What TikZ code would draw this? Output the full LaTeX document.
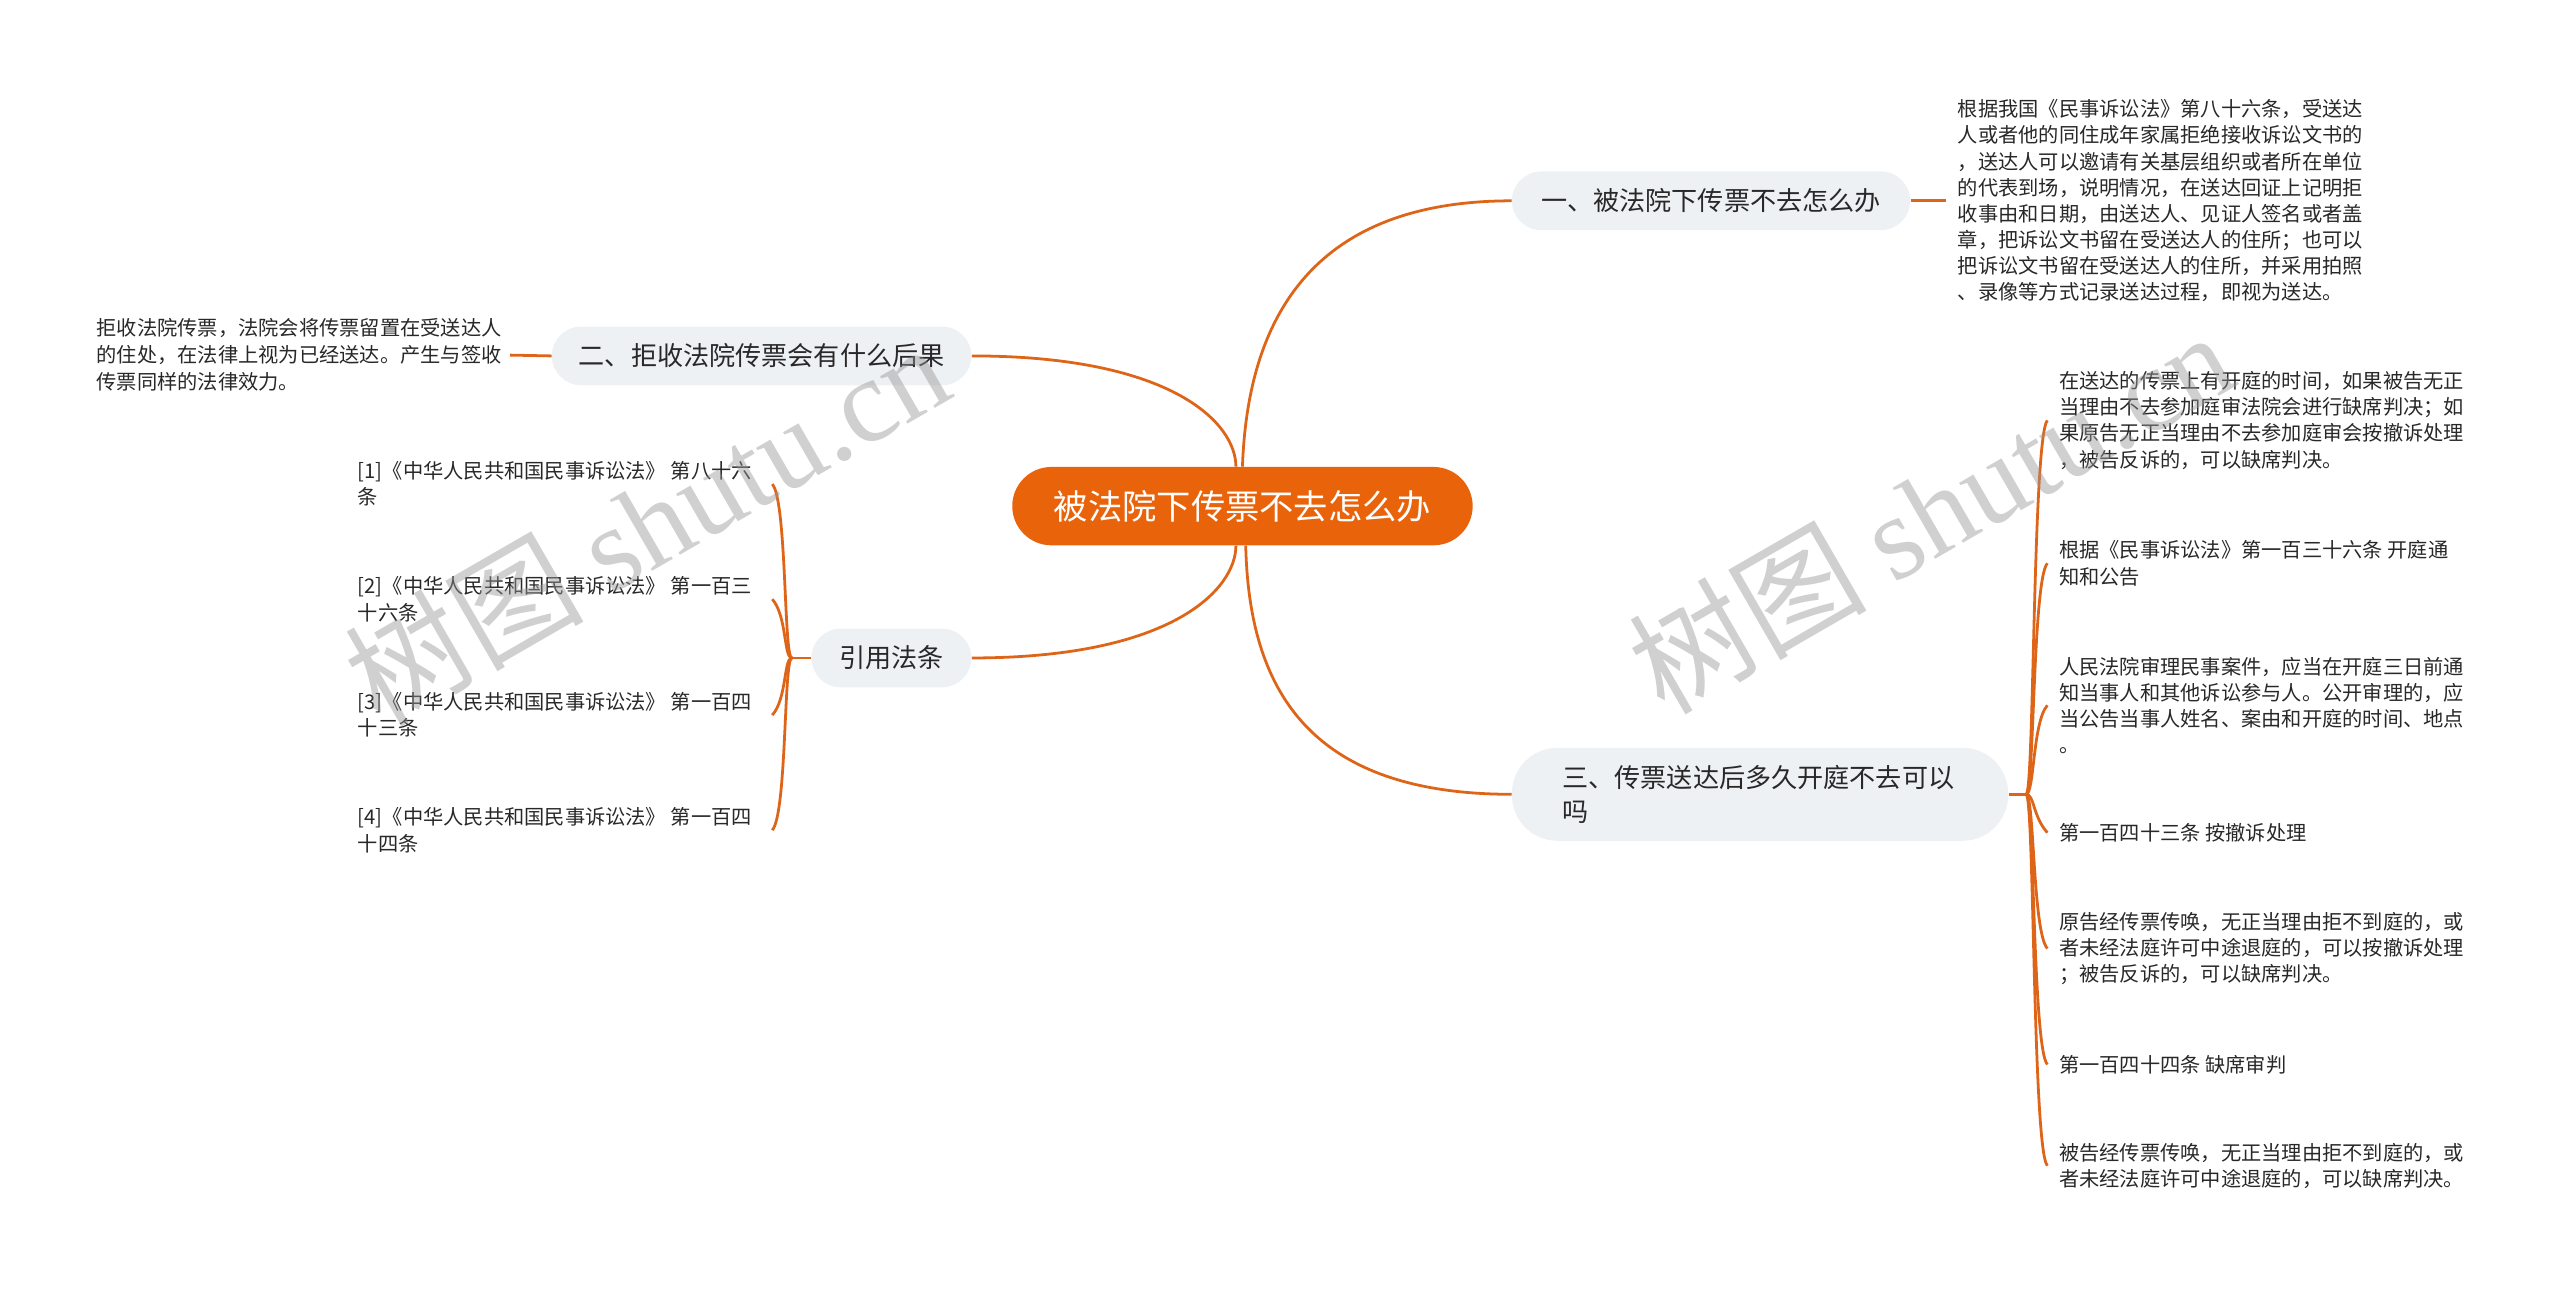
\documentclass[tikz,border=0pt]{standalone}
\usepackage{fontspec}
\setmainfont{Noto Sans CJK SC}
\newfontfamily\wmlatin{Liberation Serif}
\definecolor{rootc}{RGB}{233,99,10}
\definecolor{linec}{RGB}{222,100,24}
\definecolor{topicc}{RGB}{238,241,244}
\definecolor{textc}{RGB}{40,40,40}
\definecolor{wmc}{RGB}{150,150,150}
\begin{document}
\begin{tikzpicture}[x=1pt,y=-1pt,
  rootbox/.style={fill=rootc, text=white, rounded corners=24pt, minimum width=282pt, minimum height=48pt, inner sep=0pt, font=\fontsize{21}{25}\selectfont},
  topic/.style={fill=topicc, text=textc, rounded corners=18pt, minimum height=36pt, inner sep=0pt, font=\fontsize{16}{21}\selectfont},
  leaf/.style={text=textc, inner sep=0pt, align=left, anchor=west, font=\fontsize{12.4}{16}\selectfont},
  conn/.style={draw=linec, line width=1.7pt},
  wm/.style={text=wmc, text opacity=0.45, inner sep=0pt, font=\fontsize{73}{73}\selectfont}]
\useasboundingbox (0,0) rectangle (1568,790);

% central topic
\node[rootbox] (root) at (761,310) {被法院下传票不去怎么办};

% main topics
\node[topic, minimum width=244pt] (t1) at (1048,123) {一、被法院下传票不去怎么办};
\node[topic, minimum width=257pt] (t2) at (466.5,218) {二、拒收法院传票会有什么后果};
\node[topic, minimum width=98pt] (t4) at (546,403) {引用法条};
\node[topic, minimum width=304pt, minimum height=57pt, rounded corners=28pt, align=left, text width=242pt, font=\fontsize{16}{21}\selectfont] (t3) at (1078,486.5) {三、传票送达后多久开庭不去可以\\吗};

% leaves of t1 and t2
\node[leaf] (l1) at (1199,123) {根据我国《民事诉讼法》第八十六条，受送达\\人或者他的同住成年家属拒绝接收诉讼文书的\\，送达人可以邀请有关基层组织或者所在单位\\的代表到场，说明情况，在送达回证上记明拒\\收事由和日期，由送达人、见证人签名或者盖\\章，把诉讼文书留在受送达人的住所；也可以\\把诉讼文书留在受送达人的住所，并采用拍照\\、录像等方式记录送达过程，即视为送达。};
\node[leaf, font=\fontsize{12.4}{16.5}\selectfont] (l2) at (59,217.5) {拒收法院传票，法院会将传票留置在受送达人\\的住处，在法律上视为已经送达。产生与签收\\传票同样的法律效力。};

% leaves of t4
\node[leaf] (r1) at (219,296.5) {[1]《中华人民共和国民事诉讼法》 第八十六\\条};
\node[leaf] (r2) at (219,367) {[2]《中华人民共和国民事诉讼法》 第一百三\\十六条};
\node[leaf] (r3) at (219,438) {[3]《中华人民共和国民事诉讼法》 第一百四\\十三条};
\node[leaf] (r4) at (219,508.5) {[4]《中华人民共和国民事诉讼法》 第一百四\\十四条};

% leaves of t3
\node[leaf] (a) at (1261,257.5) {在送达的传票上有开庭的时间，如果被告无正\\当理由不去参加庭审法院会进行缺席判决；如\\果原告无正当理由不去参加庭审会按撤诉处理\\，被告反诉的，可以缺席判决。};
\node[leaf] (b) at (1261,345) {根据《民事诉讼法》第一百三十六条 开庭通\\知和公告};
\node[leaf] (c) at (1261,432) {人民法院审理民事案件，应当在开庭三日前通\\知当事人和其他诉讼参与人。公开审理的，应\\当公告当事人姓名、案由和开庭的时间、地点\\。};
\node[leaf] (d) at (1261,510) {第一百四十三条 按撤诉处理};
\node[leaf] (e) at (1261,581) {原告经传票传唤，无正当理由拒不到庭的，或\\者未经法庭许可中途退庭的，可以按撤诉处理\\；被告反诉的，可以缺席判决。};
\node[leaf] (f) at (1261,652) {第一百四十四条 缺席审判};
\node[leaf] (g) at (1261,714) {被告经传票传唤，无正当理由拒不到庭的，或\\者未经法庭许可中途退庭的，可以缺席判决。};

% connectors from root
\draw[conn] (root.north) .. controls +(3,-86) and +(-126,0) .. (t1.west);
\draw[conn] ([xshift=-4pt]root.north) .. controls +(0,-26) and +(124,0) .. (t2.east);
\draw[conn] ([xshift=-4pt]root.south) .. controls +(0,26) and +(124,0) .. (t4.east);
\draw[conn] ([xshift=2pt]root.south) .. controls +(2,86) and +(-126,0) .. (t3.west);

% straight connectors to single leaves
\draw[conn] (t1.east) -- ([xshift=-7pt]l1.west);
\draw[conn] (t2.west) -- ([xshift=5pt]l2.east);

% left bracket (引用法条)
\coordinate (b4) at (485,403);
\coordinate (e4) at (473,403);
\draw[conn] (t4.west) -- (b4);
\draw[conn] (b4) .. controls +(-5,0) and +(9,10) .. (r1.west -| e4);
\draw[conn] (b4) .. controls +(-5,0) and +(9,10) .. (r2.west -| e4);
\draw[conn] (b4) .. controls +(-5,0) and +(9,-10) .. (r3.west -| e4);
\draw[conn] (b4) .. controls +(-5,0) and +(9,-10) .. (r4.west -| e4);

% right bracket (topic 3)
\coordinate (b3) at (1241,486.5);
\draw[conn] (t3.east) -- (b3);
\draw[conn] (b3) .. controls +(5,0) and +(-9,10) .. ([xshift=-7pt]a.west);
\draw[conn] (b3) .. controls +(5,0) and +(-9,10) .. ([xshift=-7pt]b.west);
\draw[conn] (b3) .. controls +(5,0) and +(-9,10) .. ([xshift=-7pt]c.west);
\draw[conn] (b3) .. controls +(5,0) and +(-9,-10) .. ([xshift=-7pt]d.west);
\draw[conn] (b3) .. controls +(5,0) and +(-9,-10) .. ([xshift=-7pt]e.west);
\draw[conn] (b3) .. controls +(5,0) and +(-9,-10) .. ([xshift=-7pt]f.west);
\draw[conn] (b3) .. controls +(5,0) and +(-9,-10) .. ([xshift=-7pt]g.west);

% watermarks
\node[wm, rotate=30] (wm1) at (396,320) {树图 {\wmlatin shutu.cn}};
\node[wm, rotate=30] (wm2) at (1182,313) {树图 {\wmlatin shutu.cn}};
\end{tikzpicture}
\end{document}
